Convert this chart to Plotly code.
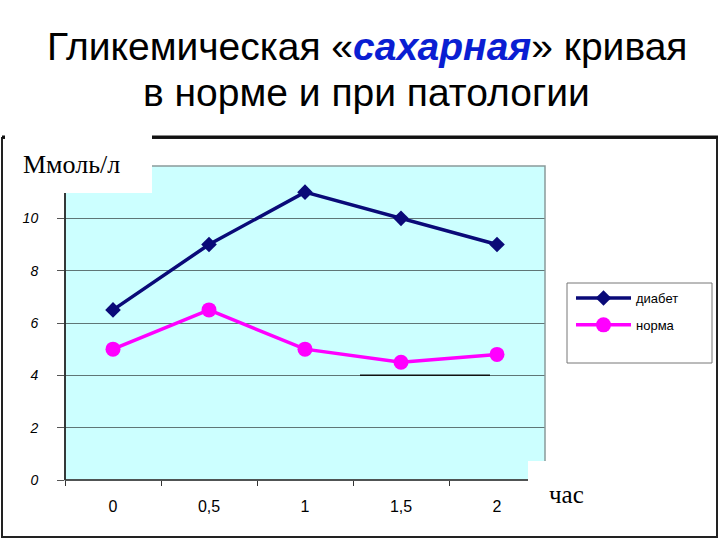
import plotly.graph_objects as go

hours = ["0", "0,5", "1", "1,5", "2"]
diabetes = [6.5, 9, 11, 10, 9]
norm = [5, 6.5, 5, 4.5, 4.8]
y_ticks = [0, 2, 4, 6, 8, 10]
series_names = ["диабет", "норма"]

W, H = 720, 540
L, R, T, B = 65, 545, 166, 480  # plot area in pixels


def px(x):
    return (x - L) / (R - L)


def py(y):
    return (B - y) / (B - T)


fig = go.Figure()
fig.add_trace(go.Scatter(
    x=hours, y=diabetes, name=series_names[0], mode="lines+markers", legendgroup="a",
    line=dict(color="#0A0A78", width=3.5),
    marker=dict(symbol="diamond", size=12, color="#0A0A78"),
))
fig.add_trace(go.Scatter(
    x=hours, y=norm, name=series_names[1], mode="lines+markers", legendgroup="b",
    line=dict(color="#FF00FF", width=3.5),
    marker=dict(symbol="circle", size=15, color="#FF00FF"),
))

shapes = []
# outer frame
shapes.append(dict(type="rect", xref="paper", yref="paper", x0=px(2), x1=px(717), y0=py(537), y1=py(138),
                   line=dict(color="#222", width=2), layer="below"))
shapes.append(dict(type="line", xref="paper", yref="paper", x0=px(2), x1=px(718), y0=py(137), y1=py(137),
                   line=dict(color="#111", width=3), layer="above"))
# plot border (gray)
shapes.append(dict(type="rect", xref="paper", yref="paper", x0=0, x1=1, y0=0, y1=1,
                   line=dict(color="#8a9a9a", width=1.5), layer="above"))
# left axis and bottom axis
shapes.append(dict(type="line", xref="paper", yref="paper", x0=0, x1=0, y0=0, y1=1,
                   line=dict(color="#111", width=1.5), layer="above"))
shapes.append(dict(type="line", xref="paper", yref="paper", x0=0, x1=1, y0=0, y1=0,
                   line=dict(color="#333", width=1.5), layer="above"))
# artifact dark segment at y=4
shapes.append(dict(type="line", xref="paper", yref="y", x0=px(360), x1=px(490), y0=4, y1=4,
                   line=dict(color="#111", width=1.5), layer="above"))
# white box behind unit label
shapes.append(dict(type="rect", xref="paper", yref="paper", x0=px(5), x1=px(152), y0=py(193), y1=py(135),
                   fillcolor="white", line=dict(width=0), layer="above"))
# white box bottom right
shapes.append(dict(type="rect", xref="paper", yref="paper", x0=px(528), x1=px(560), y0=py(486), y1=py(461),
                   fillcolor="white", line=dict(width=0), layer="above"))
# legend box
shapes.append(dict(type="rect", xref="paper", yref="paper", x0=px(567), x1=px(712), y0=py(363), y1=py(283),
                   fillcolor="white", line=dict(color="#777", width=1), layer="above"))

title_font = dict(family="Liberation Sans, Arial", size=39, color="black")
annotations = [
    dict(text="Гликемическая «<b><i><span style='color:#0A1ED2'>сахарная</span></i></b>» кривая",
         xref="paper", yref="paper", x=px(367), y=py(46), xanchor="center", yanchor="middle",
         showarrow=False, font=title_font),
    dict(text="в норме и при патологии",
         xref="paper", yref="paper", x=px(366), y=py(93), xanchor="center", yanchor="middle",
         showarrow=False, font=title_font),
    dict(text="Ммоль/л", xref="paper", yref="paper", x=px(21), y=py(165), xanchor="left", yanchor="middle",
         showarrow=False, font=dict(family="Liberation Serif, Times New Roman", size=26, color="black")),
    dict(text="час", xref="paper", yref="paper", x=px(547), y=py(494), xanchor="left", yanchor="middle",
         showarrow=False, font=dict(family="Liberation Serif, Times New Roman", size=25, color="black")),
]

fig.update_layout(
    width=W, height=H,
    margin=dict(l=L, r=W - R, t=T, b=H - B),
    paper_bgcolor="white",
    plot_bgcolor="#CCFFFF",
    showlegend=True,
    legend=dict(x=px(571), y=py(283), xanchor="left", yanchor="top", bgcolor="rgba(0,0,0,0)",
                borderwidth=0, font=dict(family="Liberation Sans, Arial", size=13, color="black"),
                itemwidth=55, tracegroupgap=7),
    xaxis=dict(type="category", showgrid=False, showline=False, zeroline=False,
               ticks="outside", ticklen=5, tickcolor="#333", tickson="boundaries",
               tickfont=dict(family="Liberation Sans, Arial", size=16, color="black"),
               ticklabelstandoff=15, range=[-0.5, 4.5]),
    yaxis=dict(range=[0, 12], tickvals=y_ticks, ticktext=[f"<i>{v}</i>" for v in y_ticks],
               showgrid=True, gridcolor="#5f7676", gridwidth=1, zeroline=False, showline=False,
               ticks="outside", ticklen=7, tickcolor="#555",
               tickfont=dict(family="Liberation Sans, Arial", size=14, color="black"),
               ticklabelstandoff=16),
    shapes=shapes,
    annotations=annotations,
)

fig.write_html("out.html")
